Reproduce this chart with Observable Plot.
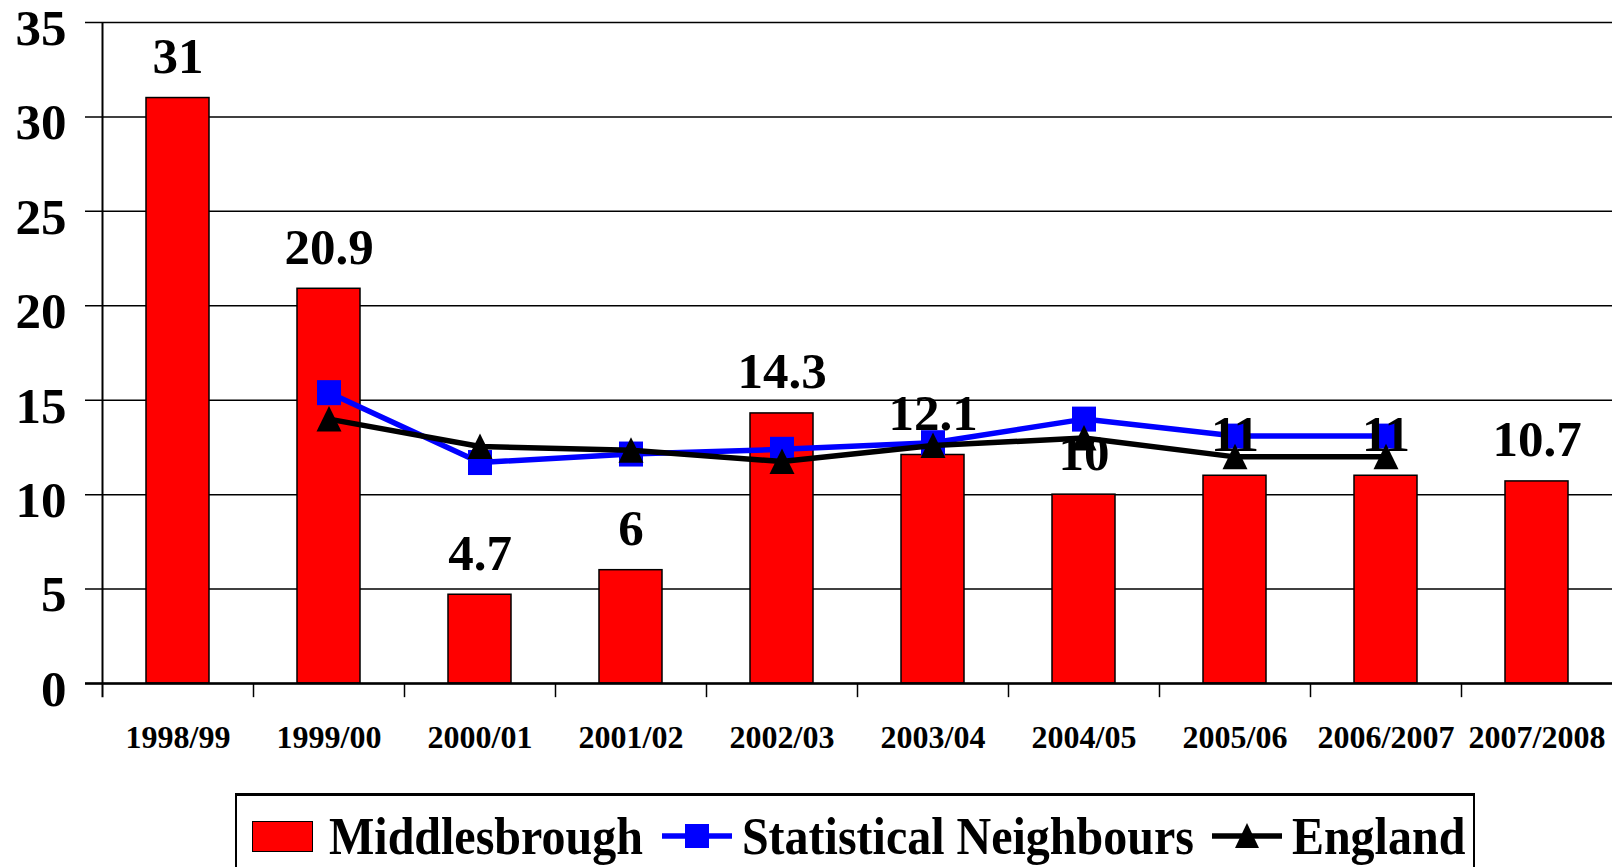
<!DOCTYPE html>
<html><head><meta charset="utf-8">
<script src="https://cdn.jsdelivr.net/npm/d3@7"></script>
<script src="https://cdn.jsdelivr.net/npm/@observablehq/plot@0.6"></script>
<style>
html,body{margin:0;padding:0;background:#fff;}
body{font-family:"Liberation Serif","Times New Roman",serif;font-weight:bold;color:#000;width:1612px;height:867px;overflow:hidden;}
#chart svg{display:block;}
#legend{margin-left:235px;width:1236px;height:90px;border:2px solid #000;border-top:3px solid #000;display:flex;align-items:flex-start;padding-top:12px;box-sizing:content-box;}
#legend .item{display:flex;align-items:center;height:56px;}
#legend .txt{display:inline-block;font-size:48px;line-height:56px;transform:scaleY(1.1);white-space:nowrap;}
#legend .sw{width:59px;height:29px;background:#FF0000;border:1.5px solid #000;}
</style>
</head><body>
<div id="chart"></div>
<div id="legend">
  <div class="item" style="margin-left:15px"><div class="sw"></div></div>
  <div class="item" style="margin-left:16px"><span class="txt">Middlesbrough</span></div>
  <div class="item" style="margin-left:19px"><svg width="70" height="30"><line x1="0" x2="70" y1="15" y2="15" stroke="#0000FF" stroke-width="5.5"/><rect x="23" y="3" width="24" height="24" fill="#0000FF"/></svg></div>
  <div class="item" style="margin-left:10px"><span class="txt">Statistical Neighbours</span></div>
  <div class="item" style="margin-left:18px"><svg width="70" height="30"><line x1="0" x2="70" y1="15" y2="15" stroke="#000" stroke-width="5.5"/><path d="M35,2L47,27L23,27Z" fill="#000"/></svg></div>
  <div class="item" style="margin-left:10px"><span class="txt">England</span></div>
</div>
<script>
const categories = ["1998/99","1999/00","2000/01","2001/02","2002/03","2003/04","2004/05","2005/06","2006/2007","2007/2008"];
const middlesbrough = [31, 20.9, 4.7, 6, 14.3, 12.1, 10, 11, 11, 10.7];
const statNeighbours = [null, 15.4, 11.7, 12.15, 12.4, 12.75, 14.0, 13.1, 13.1, null];
const england = [null, 14.0, 12.55, 12.35, 11.75, 12.6, 13.0, 12.0, 12.0, null];
const yTicks = [0, 5, 10, 15, 20, 25, 30, 35];

const bars = categories.map((c, i) => ({cat: c, v: middlesbrough[i]}));
const sn = categories.map((c, i) => ({cat: c, v: statNeighbours[i]})).filter(d => d.v != null);
const en = categories.map((c, i) => ({cat: c, v: england[i]})).filter(d => d.v != null);

const squareSym = {draw(ctx) { ctx.rect(-12, -12.5, 24, 25); }};
const triSym = {draw(ctx) { ctx.moveTo(0, -13); ctx.lineTo(12.5, 12.5); ctx.lineTo(-12.5, 12.5); ctx.closePath(); }};

const chart = Plot.plot({
  width: 1612, height: 793,
  marginLeft: 102, marginRight: 0, marginTop: 22, marginBottom: 110,
  style: {fontFamily: "'Liberation Serif', 'Times New Roman', serif", fontWeight: "bold", color: "#000", background: "#fff", overflow: "visible"},
  x: {domain: categories, paddingInner: 0.585, paddingOuter: 0.2925, label: null},
  y: {domain: [0, 35], label: null},
  marks: [
    Plot.ruleY(yTicks, {stroke: "#000", strokeWidth: 1.5, insetLeft: -17}),
    Plot.axisY({ticks: yTicks, tickSize: 0, tickPadding: 36, fontSize: 51, dy: 6, label: null, tickFormat: d => String(d)}),
    Plot.axisX({tickSize: 0, tickPadding: 42, fontSize: 32, label: null}),
    Plot.barY(bars, {x: "cat", y: "v", fill: "#FF0000", stroke: "#000", strokeWidth: 1.5}),
    Plot.ruleY([0], {stroke: "#000", strokeWidth: 2.5, insetLeft: -17}),
    Plot.ruleX([categories[0]], {x: d => d, dx: -75.5, y1: -0.75, y2: 35, stroke: "#000", strokeWidth: 2}),
    Plot.ruleX(categories.slice(1), {x: d => d, dx: -75.5, y1: 0, y2: -0.75, stroke: "#000", strokeWidth: 1.5}),
    Plot.line(sn, {x: "cat", y: "v", stroke: "#0000FF", strokeWidth: 5.5}),
    Plot.dot(sn, {x: "cat", y: "v", symbol: squareSym, fill: "#0000FF", r: 10}),
    Plot.line(en, {x: "cat", y: "v", stroke: "#000", strokeWidth: 5.5}),
    Plot.dot(en, {x: "cat", y: "v", symbol: triSym, fill: "#000", r: 10}),
    Plot.text(bars, {x: "cat", y: "v", text: d => String(d.v), lineAnchor: "bottom", dy: -25, fontSize: 51, fill: "#000"})
  ]
});
document.getElementById("chart").appendChild(chart);
</script>
</body></html>
